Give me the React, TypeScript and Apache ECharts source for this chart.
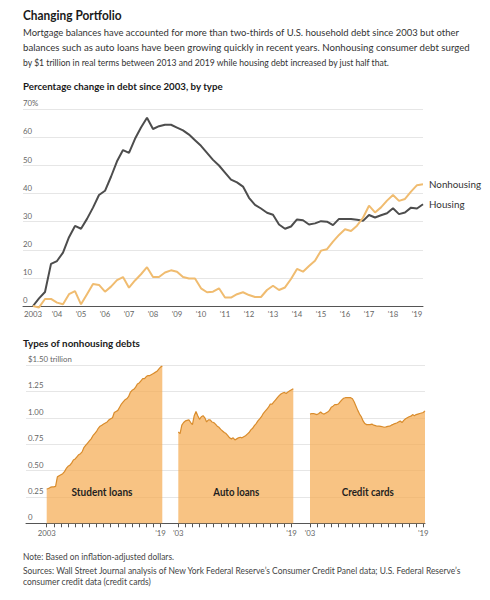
import React, { useEffect, useRef } from "react";
import * as echarts from "echarts";

const FONT = 'Lato, "Noto Sans", sans-serif';

const years = [2003, 2004, 2005, 2006, 2007, 2008, 2009, 2010, 2011, 2012, 2013, 2014, 2015, 2016, 2017, 2018, 2019];
const quarters = years.flatMap((y) => ["Q1", "Q2", "Q3", "Q4"].map((q) => `${y}${q}`)).slice(0, 66);

// Percentage change in debt since 2003 (quarterly, 2003Q1–2019Q2)
const housing = [
  0, 2.7, 5, 15, 16, 19, 24.5, 28.5, 27.5, 31, 35, 39.5, 41, 46, 51.5, 55.5,
  54.5, 59.5, 63.5, 67, 63, 64, 64.5, 64.5, 63.5, 62.5, 61, 59, 57, 54.5, 52, 50,
  47.5, 45, 44, 42.5, 38.5, 36, 34.7, 33.2, 32.5, 29, 27.5, 28.3, 30.8, 30.5, 29, 29.4,
  30.2, 30, 28.8, 31, 31, 31, 30.7, 30.3, 32.4, 31.5, 32.3, 33, 34.8, 32.7, 33.3, 35,
  34.7, 36.2,
];
const nonhousing = [
  0, -0.5, 2.5, 2.5, 1.2, 0.6, 4.2, 5.3, 0.6, 4.2, 7.8, 7.5, 5.1, 6.9, 9.2, 10.3,
  6.5, 9.1, 11.3, 13.8, 10.3, 10.3, 11.9, 12.7, 12.2, 10.3, 9.8, 9.8, 6.3, 4.9, 5.1, 6.3,
  3, 3, 4.2, 4.9, 3.9, 3.2, 3.2, 5.7, 7.2, 5.7, 6.6, 9.6, 13.2, 12.2, 14.2, 16.1,
  19.7, 20.2, 22.9, 25.3, 27.3, 26.7, 28.6, 31.4, 35.7, 33.3, 35.1, 37.5, 39.5, 37.4, 38.1, 40.7,
  43, 43.3,
];

// Types of nonhousing debts, $ trillion (quarterly, 2003Q1–2019Q2)
const studentLoans = [
  0.325, 0.33, 0.34, 0.345, 0.345, 0.35, 0.44, 0.45, 0.46, 0.47, 0.49, 0.52, 0.54, 0.55, 0.57, 0.6,
  0.61, 0.63, 0.65, 0.66, 0.68, 0.72, 0.74, 0.76, 0.78, 0.8, 0.83, 0.85, 0.87, 0.9, 0.92, 0.93,
  0.94, 0.95, 0.96, 0.98, 0.99, 1.0, 1.05, 1.06, 1.07, 1.1, 1.13, 1.15, 1.17, 1.18, 1.2, 1.24,
  1.26, 1.27, 1.29, 1.32, 1.33, 1.35, 1.37, 1.37, 1.39, 1.4, 1.4, 1.41, 1.42, 1.43, 1.44, 1.46,
  1.48, 1.49,
];
const autoLoans = [
  0.865, 0.85, 0.93, 0.955, 0.97, 0.975, 0.98, 0.955, 0.935, 1.02, 1.06, 1.02, 0.985, 1.01, 1.02, 1.0,
  0.96, 0.98, 0.98, 0.96, 0.955, 0.94, 0.92, 0.91, 0.89, 0.875, 0.86, 0.85, 0.83, 0.81, 0.8, 0.81,
  0.79, 0.8, 0.81, 0.815, 0.81, 0.82, 0.83, 0.845, 0.86, 0.885, 0.9, 0.925, 0.945, 0.97, 0.99, 1.01,
  1.04, 1.06, 1.08, 1.1, 1.13, 1.13, 1.15, 1.17, 1.19, 1.21, 1.225, 1.235, 1.24, 1.23, 1.245, 1.255,
  1.265, 1.275,
];
const creditCards = [
  1.035, 1.04, 1.04, 1.035, 1.03, 1.04, 1.055, 1.04, 1.035, 1.045, 1.055, 1.07, 1.1, 1.11, 1.125, 1.125,
  1.13, 1.15, 1.17, 1.185, 1.19, 1.19, 1.19, 1.19, 1.18, 1.15, 1.11, 1.07, 1.035, 1.01, 0.97, 0.945,
  0.935, 0.935, 0.935, 0.94, 0.93, 0.925, 0.92, 0.92, 0.918, 0.915, 0.91, 0.913, 0.918, 0.92, 0.93, 0.937,
  0.945, 0.95, 0.96, 0.97, 0.955, 0.975, 0.99, 1.0, 1.01, 1.015, 1.03, 1.02, 1.03, 1.035, 1.04, 1.045,
  1.05, 1.065,
];

const topYLabels = ["0", "10", "20", "30", "40", "50", "60", "70%"];
const bottomYLabels = ["0", "0.25", "0.50", "0.75", "1.00", "1.25", "$1.50 trillion"];
const panelNames = ["Student loans", "Auto loans", "Credit cards"];
const panelFirstLabels = ["2003", "'03", "'03"];
const panelLastLabel = "'19";

const titleText = "Changing Portfolio";
const subtitleLines = [
  "Mortgage balances have accounted for more than two-thirds of U.S. household debt since 2003 but other",
  "balances such as auto loans have been growing quickly in recent years. Nonhousing consumer debt surged",
  "by $1 trillion in real terms between 2013 and 2019 while housing debt increased by just half that.",
];
const chart1Title = "Percentage change in debt since 2003, by type";
const chart2Title = "Types of nonhousing debts";
const noteText = "Note: Based on inflation-adjusted dollars.";
const sourceLines = [
  "Sources: Wall Street Journal analysis of New York Federal Reserve\u2019s Consumer Credit Panel data; U.S. Federal Reserve\u2019s",
  "consumer credit data (credit cards)",
];

let measureCtx: CanvasRenderingContext2D | null = null;
function textWidth(text: string, size: number, weight: string) {
  if (!measureCtx) measureCtx = document.createElement("canvas").getContext("2d");
  if (!measureCtx) return 0;
  measureCtx.font = `${weight} ${size}px ${FONT}`;
  return measureCtx.measureText(text).width;
}

export default function App() {
  const ref = useRef<HTMLDivElement>(null);

  useEffect(() => {
    if (!ref.current) return;
    const chart = echarts.init(ref.current, undefined, { renderer: "svg" });

    const gridColor = "#e6e6e6";
    const axisColor = "#555";
    const labelColor = "#666";
    const axisFont = 7.8;

    const panelGrids = [
      { left: 46.7, width: 115.6 },
      { left: 178.3, width: 115 },
      { left: 310, width: 115 },
    ];

    const topTop = 109.3;
    const topBottom = 306;
    const botTop = 365;
    const botBottom = 523.3;

    const grids: any[] = [
      { left: 23, right: 67, top: topTop, height: topBottom - topTop },
      { left: 33, right: 67, top: topTop, height: topBottom - topTop },
      { left: 26, right: 65, top: botTop, height: botBottom - botTop },
      ...panelGrids.map((p) => ({ left: p.left, width: p.width, top: botTop, height: botBottom - botTop })),
    ];

    const bgX = (gridIndex: number) => ({
      type: "value",
      gridIndex,
      min: 0,
      max: 1,
      axisLine: { show: true, lineStyle: { color: axisColor, width: 1 } },
      axisTick: { show: false },
      axisLabel: { show: false },
      splitLine: { show: false },
    });

    const xAxes: any[] = [
      bgX(0),
      {
        type: "category",
        gridIndex: 1,
        data: quarters,
        boundaryGap: false,
        axisLine: { show: false },
        axisTick: { show: false },
        axisLabel: {
          interval: (i: number) => i % 4 === 0,
          formatter: (v: string) => {
            const y = v.slice(0, 4);
            return y === "2003" ? "2003" : "'" + y.slice(2);
          },
          color: labelColor,
          fontSize: axisFont,
          fontFamily: FONT,
          margin: 4,
        },
        splitLine: { show: false },
      },
      bgX(2),
      ...panelGrids.map((_, k) => ({
        type: "category",
        gridIndex: 3 + k,
        data: quarters,
        boundaryGap: false,
        axisLine: { show: false },
        axisTick: {
          show: true,
          interval: (i: number) => i % 4 === 0,
          length: 4,
          lineStyle: { color: axisColor, width: 1 },
        },
        axisLabel: {
          interval: (i: number) => i === 0 || i === 64,
          formatter: (v: string) => (v.startsWith("2003") ? panelFirstLabels[k] : panelLastLabel),
          color: labelColor,
          fontSize: axisFont,
          fontFamily: FONT,
          margin: 6,
        },
        splitLine: { show: false },
      })),
    ];

    const yAxes: any[] = [
      {
        type: "value",
        gridIndex: 0,
        min: 0,
        max: 70,
        interval: 10,
        axisLine: { show: false },
        axisTick: { show: false },
        axisLabel: {
          inside: true,
          verticalAlign: "bottom",
          margin: 0,
          padding: [0, 0, 2, 0],
          color: labelColor,
          fontSize: axisFont,
          fontFamily: FONT,
          formatter: (v: number) => topYLabels[Math.round(v / 10)],
        },
        splitLine: { show: true, lineStyle: { color: gridColor, width: 1 } },
      },
      { type: "value", gridIndex: 1, min: 0, max: 70, show: false },
      {
        type: "value",
        gridIndex: 2,
        min: 0,
        max: 1.5,
        interval: 0.25,
        axisLine: { show: false },
        axisTick: { show: false },
        axisLabel: {
          inside: true,
          verticalAlign: "bottom",
          margin: 2,
          padding: [0, 0, 2, 0],
          color: labelColor,
          fontSize: axisFont,
          fontFamily: FONT,
          formatter: (v: number) => bottomYLabels[Math.round(v / 0.25)],
        },
        splitLine: { show: true, lineStyle: { color: gridColor, width: 1 } },
      },
      ...panelGrids.map((_, k) => ({ type: "value", gridIndex: 3 + k, min: 0, max: 1.5, show: false })),
    ];

    const areaSeries = [studentLoans, autoLoans, creditCards].map((d, k) => ({
      type: "line",
      name: panelNames[k],
      xAxisIndex: 3 + k,
      yAxisIndex: 3 + k,
      data: d,
      showSymbol: false,
      symbol: "none",
      lineStyle: { color: "#d98c2c", width: 1.2 },
      areaStyle: { color: "#f5a94f", opacity: 0.7 },
      silent: true,
    }));

    // text fitted to the widths measured on the reference
    const txt = (
      x: number,
      y: number,
      text: string,
      size: number,
      weight: string,
      fill: string,
      targetW: number,
      align = "left"
    ) => {
      const w = textWidth(text, size, weight);
      let sx = w > 0 ? targetW / w : 1;
      sx = Math.max(0.75, Math.min(1.15, sx));
      return {
        type: "text",
        x,
        y,
        z: 100,
        scaleX: sx,
        silent: true,
        style: {
          text,
          fill,
          fontSize: size,
          fontWeight: weight,
          fontFamily: FONT,
          align,
          verticalAlign: "middle",
        },
      };
    };

    const subW = [437, 448, 367];
    const srcW = [438.7, 128.3];
    const panelX = [102, 236.3, 367.8];
    const panelW = [61, 46, 52.3];

    const graphic: any[] = [
      txt(23, 15, titleText, 12.5, "bold", "#1a1a1a", 98.6),
      ...subtitleLines.map((l, i) => txt(23, 31.8 + i * 15.3, l, 10.3, "normal", "#333", subW[i])),
      txt(23, 86, chart1Title, 9.6, "bold", "#1a1a1a", 200),
      txt(23, 343, chart2Title, 9.6, "bold", "#1a1a1a", 117),
      ...panelNames.map((n, k) => txt(panelX[k], 492, n, 10.5, "bold", "#1f1f1f", panelW[k], "center")),
      txt(23, 556.5, noteText, 8.6, "normal", "#444", 151),
      ...sourceLines.map((l, i) => txt(23, 571 + i * 10.6, l, 8.6, "normal", "#444", srcW[i])),
    ];

    const endLabel = { show: true, formatter: "{a}", color: "#333", fontSize: 9.8, fontFamily: FONT, distance: 6 };

    chart.setOption({
      animation: false,
      grid: grids,
      xAxis: xAxes,
      yAxis: yAxes,
      series: [
        {
          type: "line",
          name: "Housing",
          xAxisIndex: 1,
          yAxisIndex: 1,
          data: housing,
          showSymbol: false,
          symbol: "none",
          clip: false,
          lineStyle: { color: "#4d4d4d", width: 2 },
          endLabel,
          silent: true,
        },
        {
          type: "line",
          name: "Nonhousing",
          xAxisIndex: 1,
          yAxisIndex: 1,
          data: nonhousing,
          showSymbol: false,
          symbol: "none",
          clip: false,
          lineStyle: { color: "#f0bc70", width: 2 },
          endLabel,
          silent: true,
        },
        ...areaSeries,
      ],
      graphic,
    });

    return () => chart.dispose();
  }, []);

  return (
    <div
      ref={ref}
      style={{ position: "absolute", left: 0, top: 0, width: 490, height: 600, background: "#fff" }}
    />
  );
}
